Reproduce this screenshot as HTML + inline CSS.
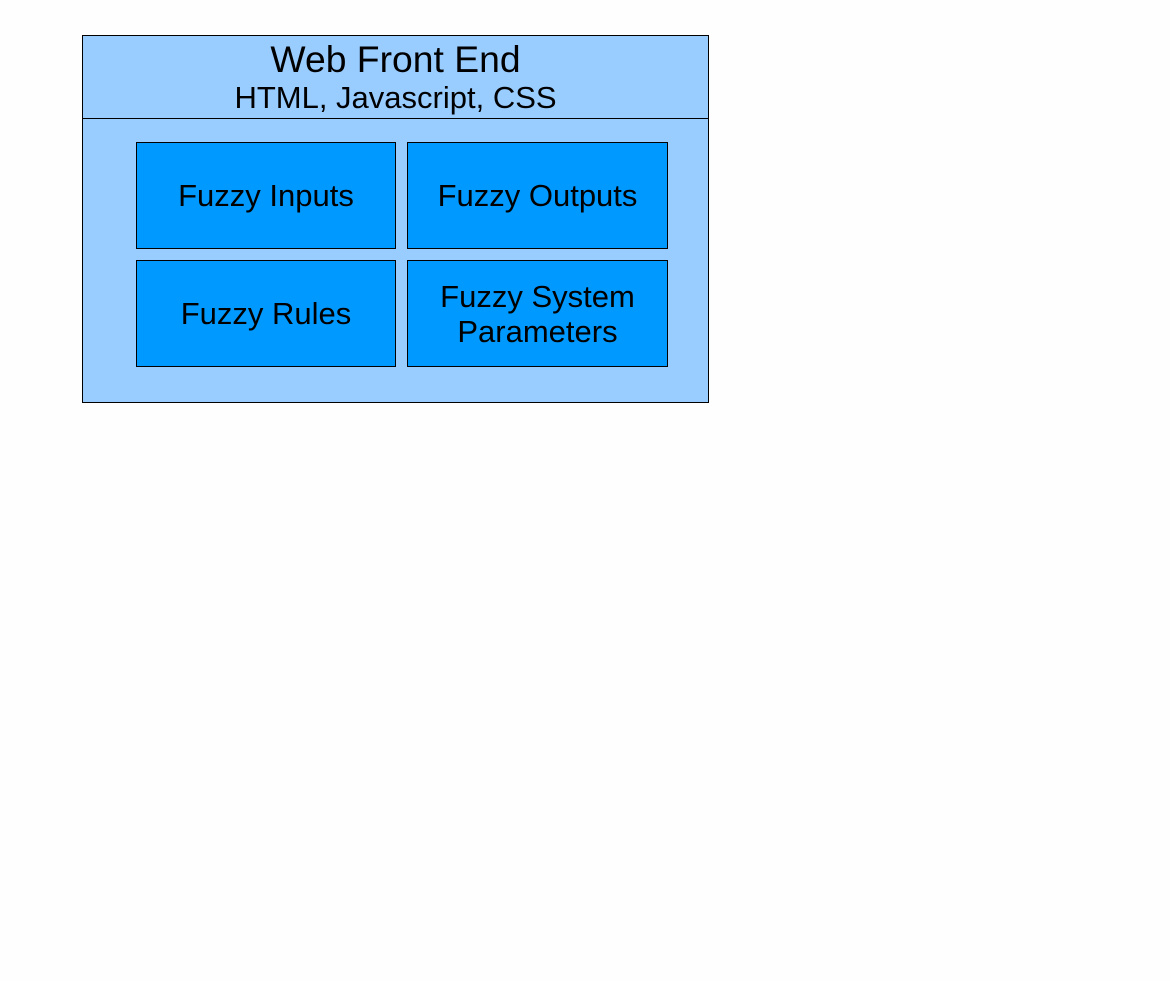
<!DOCTYPE html>
<html><head><style>
body{margin:0;width:1170px;height:981px;background:#fefefe;position:relative;font-family:"Liberation Sans",sans-serif;overflow:hidden}
.b{position:absolute;box-sizing:border-box;border:1px solid #000;display:flex;align-items:center;justify-content:center;text-align:center;color:#000}
.o{background:#99ccff}
.i{background:#0099ff;font-size:31px;line-height:35px}
</style></head><body>
<div class="b o" style="left:82px;top:35px;width:627px;height:368px"></div>
<div class="b o" style="left:82px;top:35px;width:627px;height:84px;flex-direction:column">
<div style="font-size:37.3px;line-height:44px;margin-top:-4px">Web Front End</div>
<div style="font-size:31px;line-height:30px;margin-top:2px">HTML, Javascript, CSS</div></div>
<div class="b i" style="left:136px;top:142px;width:260px;height:107px">Fuzzy Inputs</div>
<div class="b i" style="left:407px;top:142px;width:261px;height:107px">Fuzzy Outputs</div>
<div class="b i" style="left:136px;top:260px;width:260px;height:107px">Fuzzy Rules</div>
<div class="b i" style="left:407px;top:260px;width:261px;height:107px">Fuzzy System<br>Parameters</div>
</body></html>
